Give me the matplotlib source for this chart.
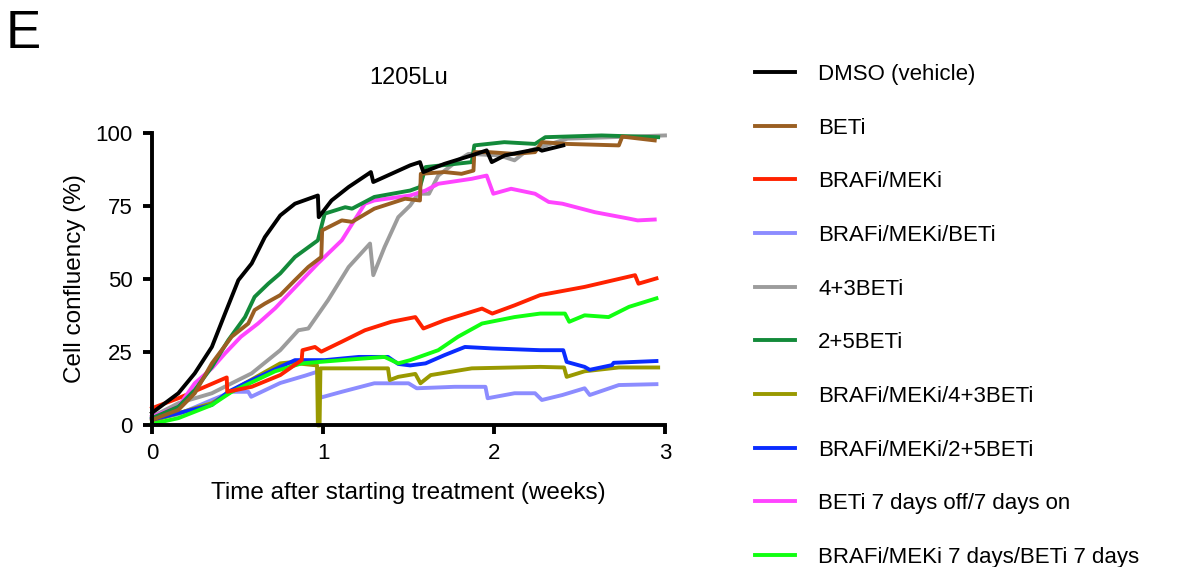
import numpy as np
import matplotlib
matplotlib.use('Agg')
import matplotlib.pyplot as plt

plt.rcParams['font.family'] = ['Liberation Sans', 'DejaVu Sans']

dmso_t = [0, 0.154, 0.25, 0.35, 0.427, 0.505, 0.583, 0.66, 0.75, 0.836, 0.97, 0.975, 1.05, 1.15, 1.265, 1.28, 1.294,
          1.40, 1.51, 1.567, 1.587, 1.71, 1.87, 1.957, 1.987, 2.064, 2.26, 2.28, 2.405]
dmso_y = [4.3, 11, 17.8, 26.8, 38.2, 49.6, 55.3, 64.3, 71.7, 75.7, 78.5, 71.1, 76.8, 81.4, 85.9, 86.5, 83.1,
          85.9, 88.8, 89.9, 86.5, 89.3, 92.2, 93.9, 89.9, 92.2, 94.4, 93.8, 95.6]

beti_t = [0, 0.154, 0.25, 0.35, 0.466, 0.563, 0.6, 0.66, 0.75, 0.836, 0.914, 0.99, 0.995, 1.11, 1.17, 1.30, 1.48,
          1.567, 1.572, 1.71, 1.81, 1.88, 1.885, 1.97, 2.12, 2.24, 2.28, 2.43, 2.73, 2.75, 2.94]
beti_y = [1.9, 5.3, 11, 21.2, 30.3, 34.8, 39.4, 41.6, 44.5, 49.6, 54.1, 57.5, 66.6, 70, 69.5, 74, 77.4,
          76.8, 85.9, 86.5, 85.9, 87, 93.3, 93.3, 92.7, 93.3, 96.7, 96.1, 95.6, 98.6, 97.3]

braf_t = [0, 0.154, 0.31, 0.437, 0.44, 0.583, 0.75, 0.875, 0.88, 0.953, 0.99, 1.11, 1.245, 1.40, 1.54, 1.587,
          1.71, 1.93, 1.99, 2.12, 2.27, 2.53, 2.825, 2.845, 2.95]
braf_y = [5.9, 9.3, 13.2, 16.4, 11.5, 13.2, 17.2, 22.3, 25.7, 26.8, 25.2, 28.6, 32.5, 35.4, 37, 33.1,
          35.9, 39.9, 38.2, 41, 44.5, 47.3, 51.3, 48.4, 50.2]

bmb_t = [0, 0.154, 0.35, 0.466, 0.563, 0.58, 0.75, 0.895, 0.975, 0.985, 1.11, 1.30, 1.5, 1.548, 1.77, 1.95, 1.963,
         2.12, 2.24, 2.28, 2.40, 2.53, 2.56, 2.73, 2.95]
bmb_y = [2, 3.8, 8.7, 11.5, 11.5, 9.8, 14.5, 17, 18.5, 9.5, 11.5, 14.4, 14.4, 12.7, 13.2, 13.2, 9.3,
         11, 11, 8.7, 10.4, 12.7, 10.4, 13.8, 14.1]

b43_t = [0, 0.154, 0.35, 0.466, 0.583, 0.75, 0.856, 0.914, 1.03, 1.15, 1.275, 1.294, 1.36, 1.44, 1.51, 1.557,
         1.62, 1.674, 1.79, 1.85, 2.03, 2.12, 2.18, 2.27, 2.43, 3.0]
b43_y = [3, 7.6, 11, 14.4, 17.8, 25.7, 32.5, 33.1, 42.8, 54.1, 62.1, 51.3, 60.9, 71.1, 75.1, 79.1,
         79.1, 85.3, 90.5, 92.7, 92.2, 90.5, 93.3, 95, 97.9, 99]

b25_t = [0, 0.154, 0.25, 0.35, 0.446, 0.544, 0.6, 0.68, 0.75, 0.836, 0.97, 1.01, 1.13, 1.17, 1.30, 1.51, 1.567,
         1.6, 1.87, 1.885, 2.06, 2.24, 2.3, 2.63, 2.96]
b25_y = [2.5, 6.4, 12.1, 20, 29.1, 37, 43.9, 48.4, 51.9, 57.5, 63.2, 72.3, 74.5, 74, 78, 80.2, 81.4,
         88.2, 89.9, 95.6, 96.7, 96.1, 98.4, 99, 98.4]

bm43_t = [0, 0.35, 0.544, 0.75, 0.80, 0.965, 0.97, 0.98, 0.985, 1.11, 1.38, 1.39, 1.44, 1.54, 1.57, 1.63, 1.87,
          2.27, 2.41, 2.425, 2.53, 2.73, 2.96]
bm43_y = [1.5, 7.6, 14.4, 21.2, 21.5, 20.5, 0, 0, 19.5, 19.5, 19.5, 15.5, 16.6, 17.6, 14.4, 17.2, 19.5,
          20, 19.8, 16.6, 18.5, 19.8, 19.8]

bm25_t = [0, 0.35, 0.446, 0.544, 0.75, 0.836, 1.01, 1.21, 1.38, 1.44, 1.51, 1.6, 1.71, 1.83, 1.99, 2.27, 2.405,
          2.425, 2.53, 2.56, 2.69, 2.7, 2.95]
bm25_y = [2, 7, 11.5, 14.4, 20, 22.3, 22.3, 23.4, 23.4, 21, 20.5, 21.2, 24, 26.8, 26.3, 25.7, 25.7,
          21.7, 20, 19, 20.6, 21.4, 22]

offon_t = [0, 0.154, 0.25, 0.35, 0.427, 0.52, 0.62, 0.72, 0.97, 1.11, 1.245, 1.30, 1.51, 1.6, 1.674, 1.87, 1.957,
           1.996, 2.10, 2.24, 2.32, 2.40, 2.59, 2.79, 2.84, 2.94]
offon_y = [3, 6.4, 14.4, 19.5, 24.6, 30.3, 34.8, 40, 55.3, 63.2, 75.7, 76.8, 78.5, 80.2, 82.5, 84.2, 85.3,
           79.1, 80.8, 79.1, 76.3, 75.7, 72.8, 70.6, 70, 70.3]

seq_t = [0, 0.154, 0.35, 0.466, 0.72, 0.875, 1.11, 1.36, 1.44, 1.51, 1.674, 1.79, 1.93, 2.12, 2.27, 2.415, 2.44,
         2.53, 2.67, 2.79, 2.95]
seq_y = [0.5, 2.5, 7, 11.5, 18.5, 21.2, 22.3, 23.4, 21.2, 22.3, 25.7, 30.3, 34.8, 37, 38.2, 38.2, 35.4,
         37.6, 37, 40.5, 43.4]

labels = ['DMSO (vehicle)', 'BETi', 'BRAFi/MEKi', 'BRAFi/MEKi/BETi', '4+3BETi', '2+5BETi',
          'BRAFi/MEKi/4+3BETi', 'BRAFi/MEKi/2+5BETi', 'BETi 7 days off/7 days on',
          'BRAFi/MEKi 7 days/BETi 7 days']
series = [(dmso_t, dmso_y), (beti_t, beti_y), (braf_t, braf_y), (bmb_t, bmb_y), (b43_t, b43_y),
          (b25_t, b25_y), (bm43_t, bm43_y), (bm25_t, bm25_y), (offon_t, offon_y), (seq_t, seq_y)]
colors = ['#000000', '#9a5f22', '#ff2200', '#8c8cff', '#9c9c9c', '#138a3a', '#999900', '#0a2cff',
          '#ff44ff', '#11ff11']
# drawing order: back to front
order = [4, 3, 6, 7, 9, 2, 8, 5, 1, 0]

fig = plt.figure(figsize=(11.82, 5.67), dpi=100)
ax = fig.add_axes([0.1286, 0.2496, 0.434, 0.5167])

handles = {}
for i in order:
    t, y = series[i]
    ln, = ax.plot(t, y, color=colors[i], lw=2.8, clip_on=False, solid_joinstyle='round')
    handles[i] = ln

ax.set_xlim(0, 3)
ax.set_ylim(0, 100)
ax.set_xticks([0, 1, 2, 3])
ax.set_yticks([0, 25, 50, 75, 100])
for s in ['top', 'right']:
    ax.spines[s].set_visible(False)
for s in ['left', 'bottom']:
    ax.spines[s].set_linewidth(2.8)
ax.tick_params(width=2.8, length=6.5, labelsize=16)
ax.tick_params(axis='x', pad=6)
ax.tick_params(axis='y', pad=7.5)
ax.set_xlabel('Time after starting treatment (weeks)', fontsize=17.5, labelpad=13)
ax.set_ylabel('Cell confluency (%)', fontsize=17.5, labelpad=7)
ax.set_title('1205Lu', fontsize=17, pad=35)

fig.text(0.005, 0.985, 'E', fontsize=38, va='top', ha='left')

fig.legend([handles[i] for i in range(10)], labels, loc='upper left', bbox_to_anchor=(0.631, 0.903),
           frameon=False, fontsize=16, handlelength=1.8, handletextpad=1.05, labelspacing=1.47,
           borderaxespad=0)

fig.savefig('out.png', dpi=100)
